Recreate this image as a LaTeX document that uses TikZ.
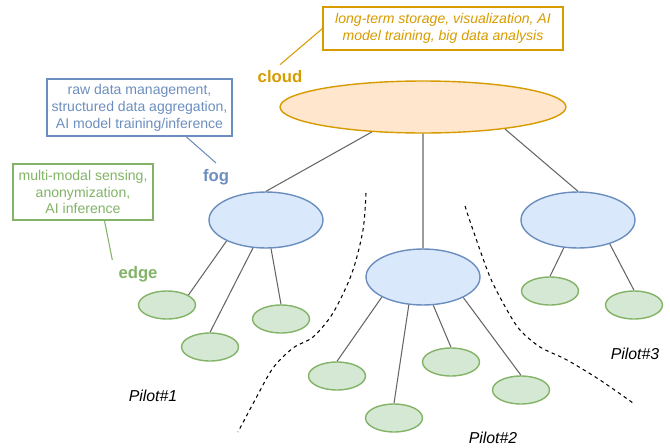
\documentclass[tikz,border=0pt]{standalone}
\usepackage{fontspec}
\setmainfont{Liberation Sans}
\usetikzlibrary{shapes,positioning}
\definecolor{cloudfill}{HTML}{FFE6CC}
\definecolor{cloudline}{HTML}{D79B00}
\definecolor{fogfill}{HTML}{DAE8FC}
\definecolor{fogline}{HTML}{6C8EBF}
\definecolor{edgefill}{HTML}{D5E8D4}
\definecolor{edgeline}{HTML}{82B366}
\definecolor{linkgray}{HTML}{666666}
\tikzset{
	cloudnode/.style={ellipse,draw=cloudline,fill=cloudfill,line width=.8pt,inner sep=0pt,minimum width=5.72cm,minimum height=1.04cm},
	fognode/.style={ellipse,draw=fogline,fill=fogfill,line width=.8pt,inner sep=0pt,minimum width=2.28cm,minimum height=1.12cm},
	edgenode/.style={ellipse,draw=edgeline,fill=edgefill,line width=.8pt,inner sep=0pt,minimum width=1.14cm,minimum height=.56cm},
	infobox/.style={draw=#1,text=#1,line width=.6pt,align=center,inner sep=0pt,font=\fontsize{8}{9.6}\selectfont},
	tierlabel/.style={text=#1,font=\fontsize{9.5}{11}\selectfont\bfseries},
	link/.style={draw=linkgray,line width=.6pt},
	pilotline/.style={dash pattern=on 2pt off 2pt,line width=.6pt},
	pilotlabel/.style={font=\fontsize{9}{11}\selectfont\itshape},
}
\begin{document}
\begin{tikzpicture}[x=.02cm,y=-.02cm]
	\useasboundingbox (0,0) rectangle (670,447);
	% tiers
	\node[cloudnode] (cloud) at (423,107){};
	\node[fognode] (fog1) at (266,220){};
	\node[fognode] (fog2) at (423,277){};
	\node[fognode] (fog3) at (578,220){};
	\node[edgenode] (e11) at (167,305){};
	\node[edgenode] (e12) at (210,347){};
	\node[edgenode] (e13) at (281,319){};
	\node[edgenode] (e21) at (337,376){};
	\node[edgenode] (e22) at (394,418){};
	\node[edgenode] (e23) at (451,362){};
	\node[edgenode] (e24) at (521,390){};
	\node[edgenode] (e31) at (550,291){};
	\node[edgenode] (e32) at (634,305){};
	\draw[link] (cloud.206) -- (fog1.north) (cloud.south) -- (fog2.north) (cloud.345) -- (fog3.north);
	\draw[link] (fog1.208) -- (e11.25) (fog1.245) -- (e12.north) (fog1.280) -- (e13.north);
	\draw[link] (fog2.206) -- (e21.north) (fog2.243) -- (e22.north) (fog2.290) -- (e23.north) (fog2.333) -- (e24.north);
	\draw[link] (fog3.243) -- (e31.north) (fog3.323) -- (e32.north);
	% labels and callouts
	\node[infobox=cloudline,minimum width=4.8cm,minimum height=.86cm,font=\fontsize{8}{9.6}\selectfont\itshape] (cloudbox) at (443,28.5){long-term storage, visualization, AI\\model training, big data analysis};
	\node[tierlabel=cloudline] (cloudlbl) at (280,77){cloud};
	\draw[cloudline,line width=.6pt] (cloudbox.west) -- (cloudlbl.north);
	\node[infobox=fogline,minimum width=3.7cm,minimum height=1.14cm] (fogbox) at (139.5,107.5){raw data management,\\structured data aggregation,\\AI model training/inference};
	\node[tierlabel=fogline] (foglbl) at (216,177){fog};
	\draw[fogline,line width=.6pt] (fogbox.-32) -- (foglbl.north);
	\node[infobox=edgeline,minimum width=2.8cm,minimum height=1.12cm] (edgebox) at (83,192){multi-modal sensing,\\anonymization,\\AI inference};
	\node[tierlabel=edgeline] (edgelbl) at (138,274){edge};
	\draw[edgeline,line width=.6pt] (edgebox.-53) -- (edgelbl.north west);
	% pilots
	\draw[pilotline] plot[smooth] coordinates {(366,193) (363,230) (352,273) (333,313) (313,337) (293,348) (273,368) (255,400) (238,432)};
	\draw[pilotline] plot[smooth] coordinates {(465,206) (473,230) (490,277) (507,310) (520,330) (540,347) (567,360) (600,380) (633,403)};
	\node[pilotlabel] (p1) at (153,396){Pilot\#1};
	\node[pilotlabel] (p2) at (493,438){Pilot\#2};
	\node[pilotlabel] (p3) at (635,354){Pilot\#3};
\end{tikzpicture}
\end{document}
